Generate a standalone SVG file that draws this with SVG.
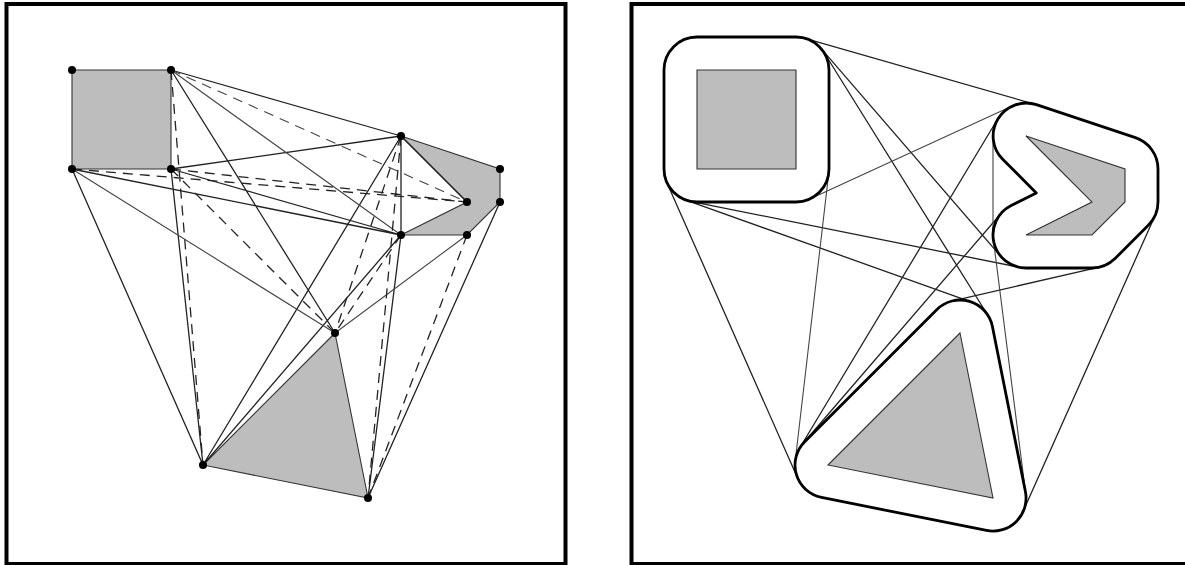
<svg xmlns="http://www.w3.org/2000/svg" width="1185" height="565" viewBox="0 0 1185 565">
<style>
.frame{fill:none;stroke:#000;stroke-width:4}
.poly{fill:#bdbdbd;stroke:#333;stroke-width:1.1}
.s{stroke:#222;stroke-width:1.3;fill:none}
.t{stroke:#444;stroke-width:1.1;fill:none}
.d{stroke:#222;stroke-width:1.3;fill:none;stroke-dasharray:10 7}
.dt{stroke:#444;stroke-width:1.1;fill:none;stroke-dasharray:10 7}
.o{fill:none;stroke:#000;stroke-width:2.8;stroke-linejoin:round}
.v{fill:#000}
</style>
<rect width="1185" height="565" fill="#fff"/>
<g id="panel-left-frame"><rect class="frame" x="6.5" y="4" width="559" height="560"/></g>
<g id="left-obstacles">
<path id="left-square" class="poly" d="M72 70H171V169H72Z"/>
<path id="left-chevron" class="poly" d="M401 136L500 169V202L467 235H401L467 202Z"/>
<path id="left-triangle" class="poly" d="M335 333L203 465L368 498Z"/>
</g>
<g id="left-connectors">
<path class="s" d="M171 70L401 136M171 70L335 333M171 169L401 136M171 169L401 235M171 169L203 465M72 169L401 235M72 169L203 465M401 136L467 202M401 136L401 235M401 136L203 465M401 235L203 465M401 235L368 498M500 202L368 498"/>
<path class="t" d="M171 70L401 235M72 169L335 333M467 235L335 333"/>
<path class="dt" d="M171 70L467 202"/>
<path class="d" d="M171 70L203 465M171 169L467 202M72 169L467 202M171 169L335 333M401 136L335 333M401 136L368 498M401 235L335 333M467 235L368 498"/>
</g>
<g id="left-vertices" class="v">
<circle cx="72" cy="70" r="4"/><circle cx="171" cy="70" r="4"/><circle cx="171" cy="169" r="4"/><circle cx="72" cy="169" r="4"/>
<circle cx="401" cy="136" r="4"/><circle cx="500" cy="169" r="4"/><circle cx="500" cy="202" r="4"/><circle cx="467" cy="235" r="4"/><circle cx="401" cy="235" r="4"/><circle cx="467" cy="202" r="4"/>
<circle cx="335" cy="333" r="4"/><circle cx="203" cy="465" r="4"/><circle cx="368" cy="498" r="4"/>
</g>
<g id="panel-right-frame"><rect class="frame" x="631.5" y="4" width="560" height="560"/></g>
<g id="right-connectors">
<path class="s" d="M805 38.3L1035 104.3M821 48.4L1001 256.6M824 52.5L988 315.5M666.8 182.4L797.8 478.4M690.5 201.3L1019.5 267.3M799.7 448L997.7 119M803 443.5L1001 213.5M1155.1 215.4L1023.1 511.4M685.9 200.1L975 303.3M952.6 300.8L1099.4 267.2"/>
<path class="t" d="M809.8 199L1012.2 106M828.8 172.8L795.2 461.2M993 136V235M993.3 239.2L1025.7 493.8"/>
</g>
<g id="right-obstacles">
<path id="right-square-offset" class="o" d="M697 37H796A33 33 0 0 1 829 70V169A33 33 0 0 1 796 202H697A33 33 0 0 1 664 169V70A33 33 0 0 1 697 37Z"/>
<path id="right-chevron-offset" class="o" d="M1036.4 104.7L1135.4 137.7A33 33 0 0 1 1158 169V202A33 33 0 0 1 1148.3 225.3L1115.3 258.3A33 33 0 0 1 1092 268H1026A33 33 0 0 1 1011.2 205.5L1036.3 192.9L1002.7 159.3A33 33 0 0 1 1036.4 104.7Z"/>
<path id="right-triangle-offset" class="o" d="M936.7 309.7A33 33 0 0 1 992.4 326.5L1025.4 491.5A33 33 0 0 1 986.5 530.4L821.5 497.4A33 33 0 0 1 804.7 441.7Z"/>
<path id="right-square" class="poly" d="M697 70H796V169H697Z"/>
<path id="right-chevron" class="poly" d="M1026 136L1125 169V202L1092 235H1026L1092 202Z"/>
<path id="right-triangle" class="poly" d="M960 333L828 465L993 498Z"/>
</g>
</svg>
